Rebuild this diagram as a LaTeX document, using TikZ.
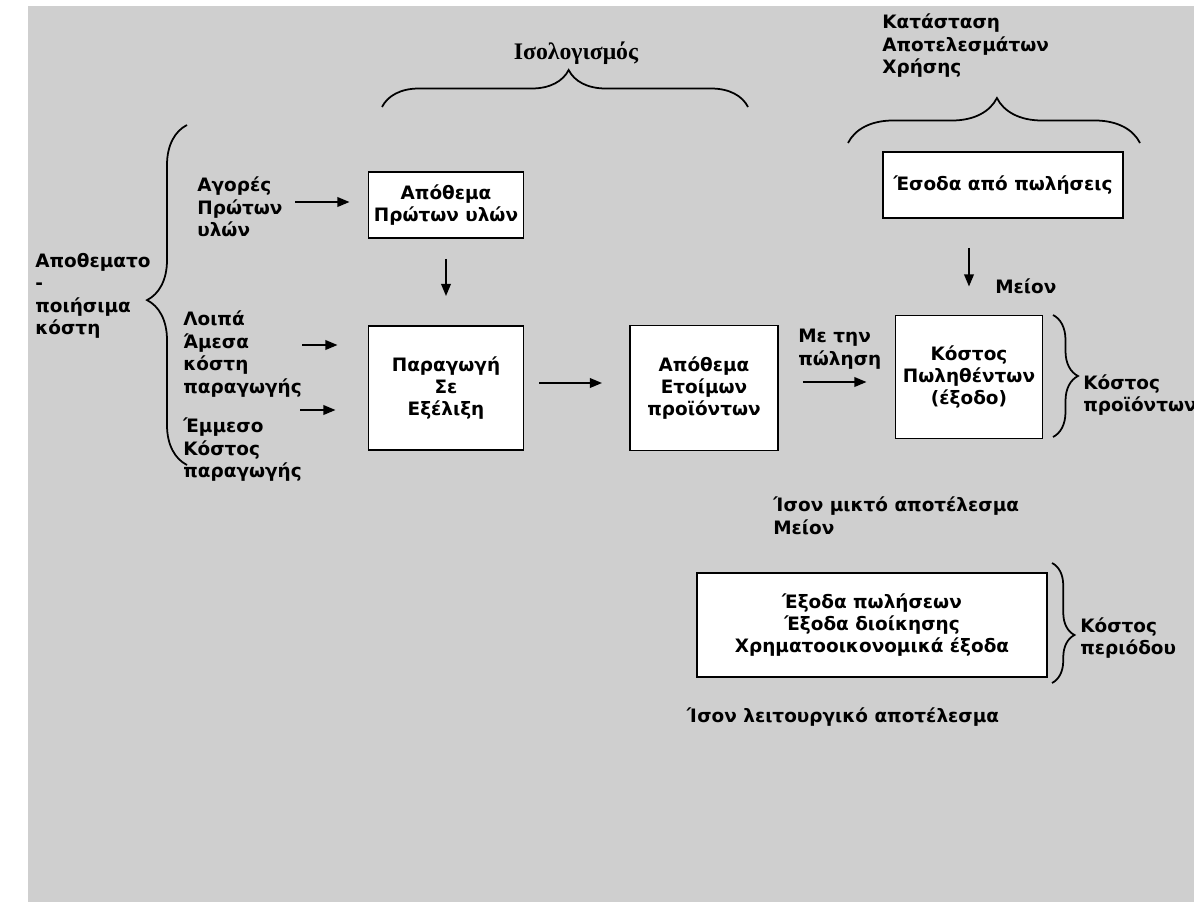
\documentclass[tikz,border=0pt]{standalone}
\usepackage{fontspec}
\setmainfont{DejaVu Sans}
\newfontfamily\titlefont{Liberation Serif}
\usetikzlibrary{decorations.pathreplacing,arrows.meta}
\definecolor{scan}{RGB}{207,207,207}
\begin{document}
\begin{tikzpicture}[x=0.02cm,y=-0.02cm,
  txt/.style={font=\fontsize{10.5}{12.8}\selectfont\bfseries, inner sep=0pt, align=left},
  ctxt/.style={font=\fontsize{10.5}{12.8}\selectfont\bfseries, inner sep=0pt, align=center},
  box/.style={draw, line width=1.1pt, fill=white, inner sep=0pt, align=center,
              font=\fontsize{10.5}{12.6}\selectfont\bfseries},
  arr/.style={-{Triangle[length=7pt,width=5.5pt]}, line width=1.1pt},
  brc/.style={decorate, line width=1pt},
]
\useasboundingbox (0,0) rectangle (1194,906);
\fill[white] (0,0) rectangle (1194,906);
\fill[scan] (28,6) rectangle (1194,902);

% titles
\node[inner sep=0pt, font=\titlefont\fontsize{13.5}{15}\selectfont\bfseries] (tIs) at (576,53) {Ισολογισμός};
\draw[brc, decoration={brace, amplitude=0.74cm, aspect=0.51}] (382,107) -- (748,107);

\node[txt, anchor=west] (tKat) at (882,46) {Κατάσταση\\Αποτελεσμάτων\\Χρήσης};
\draw[brc, decoration={brace, amplitude=0.9cm, aspect=0.51}] (848,143) -- (1140,143);

% left labels
\node[txt, anchor=west] (tApo) at (35,296) {Αποθεματο\\-\\ποιήσιμα\\κόστη};
\draw[brc, decoration={brace, amplitude=0.8cm, aspect=0.485}] (187,465) -- (187,125);

\node[txt, anchor=west] (tAg) at (197,207) {Αγορές\\Πρώτων\\υλών};
\node[txt, anchor=west] (tLo) at (183,354) {Λοιπά\\Άμεσα\\κόστη\\παραγωγής};
\node[txt, anchor=west] (tEm) at (183,450) {Έμμεσο\\Κόστος\\παραγωγής};

% boxes
\node[box, minimum width=3.1cm, minimum height=1.32cm] (A) at (446,205) {Απόθεμα\\Πρώτων υλών};
\node[box, minimum width=3.1cm, minimum height=2.48cm] (P) at (446,388) {Παραγωγή\\Σε\\Εξέλιξη};
\node[box, minimum width=2.96cm, minimum height=2.5cm] (E) at (704,388) {Απόθεμα\\Ετοίμων\\προϊόντων};
\node[box, minimum width=2.94cm, minimum height=2.46cm] (K) at (969,377) {Κόστος\\Πωληθέντων\\(έξοδο)};
\node[box, minimum width=4.8cm, minimum height=1.32cm] (S) at (1003,185) {Έσοδα από πωλήσεις};
\node[box, minimum width=7cm, minimum height=2.08cm] (X) at (872,625) {Έξοδα πωλήσεων\\Έξοδα διοίκησης\\Χρηματοοικονομικά έξοδα};

% other labels
\node[txt, anchor=west] (tMe) at (798,349) {Με την\\πώληση};
\node[txt, anchor=west] (tMi) at (995,286) {Μείον};
\node[txt, anchor=west] (tIm) at (773,516) {Ίσον μικτό αποτέλεσμα\\Μείον};
\node[ctxt] (tIl) at (843,717) {Ίσον λειτουργικό αποτέλεσμα};
\node[txt, anchor=west] (tKp) at (1083,395) {Κόστος\\προϊόντων};
\node[txt, anchor=west] (tKpe) at (1080,638) {Κόστος\\περιόδου};

% right braces
\draw[brc, decoration={brace, amplitude=0.5cm, aspect=0.5}] (1053,315) -- (1053,437);
\draw[brc, decoration={brace, amplitude=0.45cm, aspect=0.6}] (1052,563) -- (1052,683);

% arrows
\coordinate (a1) at (295,202);
\coordinate (a2) at (302,345);
\coordinate (a3) at (300,410);
\coordinate (m1) at (570,383);
\coordinate (m2) at (830,382);
\draw[arr, shorten >=0.36cm] (a1) -- (A.west |- a1);
\draw[arr, shorten >=0.6cm] (a2) -- (P.west |- a2);
\draw[arr, shorten >=0.64cm] (a3) -- (P.west |- a3);
\draw[arr, shorten <=0.4cm, shorten >=0.58cm] (A.south) -- (P.north);
\draw[arr, shorten <=0.3cm, shorten >=0.54cm] (P.east |- m1) -- (E.west |- m1);
\draw[arr, shorten <=0.48cm, shorten >=0.56cm] (E.east |- m2) -- (K.west |- m2);
\draw[arr, shorten <=0.58cm, shorten >=0.56cm] (S.south -| K.north) -- (K.north);
\end{tikzpicture}
\end{document}
